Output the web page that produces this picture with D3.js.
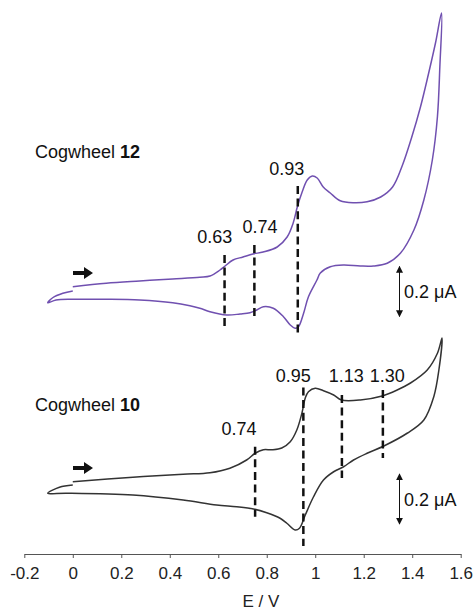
<!DOCTYPE html>
<html>
<head>
<meta charset="utf-8">
<script src="https://cdn.jsdelivr.net/npm/d3@7"></script>
<style>
  body { margin: 0; background: #fff; }
  text { font-family: "Liberation Sans", Arial, sans-serif; }
</style>
</head>
<body>
<script>
(function(){
  var width = 475;
  var height = 610;

  // axis ticks (E / V)
  var tickValues = [-0.2, 0, 0.2, 0.4, 0.6, 0.8, 1, 1.2, 1.4, 1.6];
  var tickLabels = ["-0.2", "0", "0.2", "0.4", "0.6", "0.8", "1", "1.2", "1.4", "1.6"];

  // Cogwheel 12 voltammogram: E (V), I (uA, relative)
  var topE = [0, 0.138, 0.276, 0.412, 0.524, 0.566, 0.607, 0.628, 0.661, 0.702, 0.743, 0.785, 0.843, 0.884, 0.909, 0.926, 0.946, 0.967, 0.988, 1.008, 1.033, 1.062, 1.103, 1.157, 1.214, 1.270, 1.319, 1.360, 1.397, 1.434, 1.467, 1.496, 1.521,
    1.514, 1.504, 1.483, 1.448, 1.407, 1.352, 1.297, 1.240, 1.186, 1.116, 1.062, 1.021, 1.007, 0.972, 0.952, 0.931, 0.917, 0.897, 0.869, 0.827, 0.786, 0.759, 0.731, 0.690, 0.635, 0.566, 0.524, 0.483, 0.412, 0.276, 0.138, 0, -0.069, -0.103,
    -0.083, -0.041, 0];
  var topI = [0.053, 0.067, 0.076, 0.084, 0.091, 0.096, 0.12, 0.136, 0.16, 0.172, 0.184, 0.192, 0.212, 0.252, 0.308, 0.372, 0.432, 0.48, 0.496, 0.488, 0.452, 0.428, 0.397, 0.389, 0.393, 0.412, 0.452, 0.54, 0.648, 0.772, 0.904, 1.028, 1.148,
    0.933, 0.733, 0.56, 0.40, 0.28, 0.188, 0.147, 0.136, 0.136, 0.14, 0.133, 0.108, 0.08, 0.013, -0.053, -0.107, -0.113, -0.10, -0.067, -0.033, -0.027, -0.04, -0.051, -0.056, -0.06, -0.047, -0.033, -0.023, -0.011, 0, 0.003, 0.003, 0, -0.011,
    0.009, 0.027, 0.036];

  // Cogwheel 10 voltammogram
  var botE = [0, 0.248, 0.455, 0.566, 0.648, 0.717, 0.752, 0.786, 0.821, 0.862, 0.897, 0.924, 0.945, 0.959, 0.972, 1.0, 1.034, 1.076, 1.108, 1.186, 1.276, 1.338, 1.393, 1.462, 1.504, 1.523,
    1.510, 1.489, 1.448, 1.379, 1.283, 1.214, 1.158, 1.117, 1.076, 1.034, 0.993, 0.959, 0.935, 0.917, 0.883, 0.855, 0.800, 0.745, 0.676, 0.593, 0.455, 0.248, -0.027, -0.103,
    -0.055, 0];
  var botI = [0.073, 0.091, 0.103, 0.109, 0.127, 0.16, 0.187, 0.201, 0.201, 0.208, 0.233, 0.28, 0.347, 0.408, 0.433, 0.447, 0.437, 0.42, 0.40, 0.40, 0.416, 0.44, 0.468, 0.52, 0.587, 0.648,
    0.52, 0.413, 0.32, 0.267, 0.216, 0.187, 0.16, 0.133, 0.113, 0.08, 0.013, -0.06, -0.113, -0.12, -0.093, -0.073, -0.051, -0.036, -0.027, -0.02, 0, 0.02, 0.027, 0.027,
    0.051, 0.06];

  // peak markers (dashed lines) and their labels
  var topPeaks = ["0.63", "0.74", "0.93"];
  var topPeakE = [0.626, 0.749, 0.928];
  var topPeakHi = [0.18, 0.22, 0.456];
  var topPeakLo = [-0.104, -0.08, -0.148];
  var topLabelE = [0.586, 0.772, 0.883];
  var topLabelI = [0.228, 0.268, 0.5];

  var botPeaks = ["0.74", "0.95", "1.13", "1.30"];
  var botPeakE = [0.752, 0.951, 1.11, 1.279];
  var botPeakHi = [0.213, 0.45, 0.42, 0.44];
  var botPeakLo = [-0.067, -0.184, 0.088, 0.168];
  var botLabelE = [0.686, 0.909, 1.128, 1.297];
  var botLabelI = [0.26, 0.474, 0.474, 0.474];

  var scaleBarUA = 0.2;

  var svg = d3.select("body").append("svg")
    .attr("width", width)
    .attr("height", height);

  var defs = svg.append("defs");
  defs.append("marker")
    .attr("id", "head")
    .attr("viewBox", "0 0 10 10")
    .attr("refX", 9).attr("refY", 5)
    .attr("markerWidth", 7).attr("markerHeight", 7)
    .attr("markerUnits", "userSpaceOnUse")
    .attr("orient", "auto-start-reverse")
    .append("path")
    .attr("d", "M0,0 L10,5 L0,10 z")
    .attr("fill", "#111");

  var x = d3.scaleLinear().domain([-0.2, 1.6]).range([24.3, 460.7]);
  var yTop = d3.scaleLinear().domain([0, 1]).range([300, 50]);
  var yBot = d3.scaleLinear().domain([0, 1]).range([500, 250]);

  var line = d3.line().curve(d3.curveCatmullRom.alpha(0.5));

  function drawCurve(es, is, y, color) {
    var pts = es.map(function(e, i) { return [x(e), y(is[i])]; });
    svg.append("path")
      .attr("d", line(pts))
      .attr("fill", "none")
      .attr("stroke", color)
      .attr("stroke-width", 1.5);
  }

  function drawPeaks(labels, es, hi, lo, le, li, y) {
    labels.forEach(function(lab, i) {
      svg.append("line")
        .attr("x1", x(es[i])).attr("x2", x(es[i]))
        .attr("y1", y(hi[i])).attr("y2", y(lo[i]))
        .attr("stroke", "#111")
        .attr("stroke-width", 2.5)
        .attr("stroke-dasharray", "8,4.6");
      svg.append("text")
        .attr("x", x(le[i]))
        .attr("y", y(li[i]))
        .attr("text-anchor", "middle")
        .attr("font-size", 18)
        .attr("fill", "#111")
        .text(lab);
    });
  }

  function drawScaleBar(y, center) {
    var half = (y(0) - y(scaleBarUA)) / 2;
    svg.append("line")
      .attr("x1", 399.5).attr("x2", 399.5)
      .attr("y1", center - half).attr("y2", center + half)
      .attr("stroke", "#111")
      .attr("stroke-width", 1)
      .attr("marker-start", "url(#head)")
      .attr("marker-end", "url(#head)");
    svg.append("text")
      .attr("x", 404)
      .attr("y", center + 6.5)
      .attr("font-size", 18)
      .attr("fill", "#111")
      .text("0.2 \u03bcA");
  }

  function drawDirection(yPos) {
    svg.append("path")
      .attr("d", "M73," + (yPos - 2) + " L84," + (yPos - 2) + " L84," + (yPos - 6) +
        " L93," + yPos + " L84," + (yPos + 6) + " L84," + (yPos + 2) + " L73," + (yPos + 2) + " z")
      .attr("fill", "#111");
  }

  function drawTitle(yPos, num) {
    var t = svg.append("text")
      .attr("x", 35)
      .attr("y", yPos)
      .attr("font-size", 18)
      .attr("fill", "#111");
    t.append("tspan").text("Cogwheel ");
    t.append("tspan").attr("font-weight", "bold").text(num);
  }

  drawCurve(topE, topI, yTop, "#7050b0");
  drawCurve(botE, botI, yBot, "#333");

  drawPeaks(topPeaks, topPeakE, topPeakHi, topPeakLo, topLabelE, topLabelI, yTop);
  drawPeaks(botPeaks, botPeakE, botPeakHi, botPeakLo, botLabelE, botLabelI, yBot);

  drawScaleBar(yTop, 291.5);
  drawScaleBar(yBot, 499);

  drawDirection(273);
  drawDirection(468);

  drawTitle(158, "12");
  drawTitle(411, "10");

  var axis = d3.axisBottom(x)
    .tickValues(tickValues)
    .tickFormat(function(d, i) { return tickLabels[i]; })
    .tickSize(4)
    .tickSizeOuter(0)
    .tickPadding(9);

  var g = svg.append("g")
    .attr("transform", "translate(0,554)")
    .call(axis);
  g.select(".domain").attr("stroke", "#555");
  g.selectAll(".tick line").attr("stroke", "#555");
  g.selectAll(".tick text")
    .attr("font-family", "Liberation Sans, Arial, sans-serif")
    .attr("font-size", 17)
    .attr("fill", "#222");

  svg.append("text")
    .attr("x", 261)
    .attr("y", 607)
    .attr("text-anchor", "middle")
    .attr("font-size", 17)
    .attr("fill", "#222")
    .text("E / V");
})();
</script>
</body>
</html>
